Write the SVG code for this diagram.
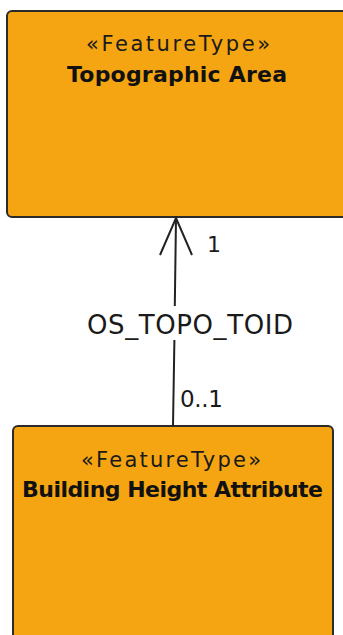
<svg xmlns="http://www.w3.org/2000/svg" width="343" height="635" viewBox="0 0 343 635">
<style>
.box{fill:#F5A511;stroke:#2b2b2b;stroke-width:2}
.st{font-family:"DejaVu Sans",sans-serif;font-size:21px;fill:#1a1a1a;text-anchor:middle}
.nm{font-family:"DejaVu Sans",sans-serif;font-size:22px;font-weight:bold;fill:#111;text-anchor:middle}
.lb{font-family:"DejaVu Sans",sans-serif;fill:#1a1a1a}
.ln{stroke:#222;stroke-width:2;fill:none}
</style>
<rect width="343" height="635" fill="#fff"/>
<g id="node-topographic-area">
<rect class="box" x="7" y="11" width="345" height="206" rx="5"/>
<text class="st" x="178" y="51" textLength="184">«FeatureType»</text>
<text class="nm" x="177" y="82" textLength="220">Topographic Area</text>
</g>
<g id="node-building-height-attribute">
<rect class="box" x="13" y="426" width="320" height="230" rx="5"/>
<text class="st" x="171" y="467" textLength="180">«FeatureType»</text>
<text class="nm" x="172.5" y="497" textLength="301">Building Height Attribute</text>
</g>
<g id="connectors">
<line class="ln" x1="173" y1="426" x2="174.4" y2="340"/>
<line class="ln" x1="174.8" y1="306" x2="176" y2="218"/>
<polyline class="ln" points="160,255 176,218 192,255"/>
<text class="lb" x="87" y="334" font-size="26" textLength="206">OS_TOPO_TOID</text>
<text class="lb" x="207" y="252" font-size="22">1</text>
<text class="lb" x="180" y="407" font-size="23" textLength="43">0..1</text>
</g>
</svg>
